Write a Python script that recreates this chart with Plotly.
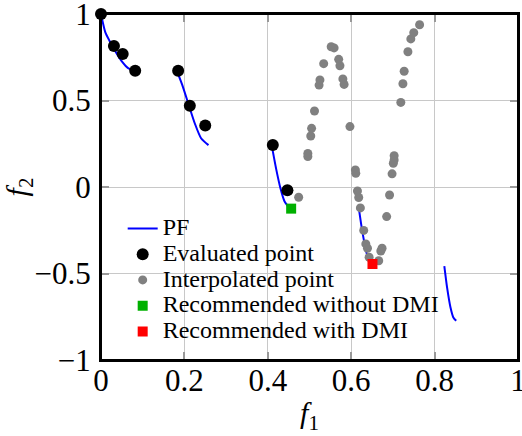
import plotly.graph_objects as go

# Pareto front segments, None separates segments
pf_f1 = [0.0, 0.01, 0.02, 0.035, 0.05, 0.065, 0.083, None,
         0.1822, 0.195, 0.21, 0.225, 0.24, 0.2578, None,
         0.4093, 0.42, 0.43, 0.44, 0.4539, None,
         0.6183, 0.625, 0.635, 0.645, 0.6525, None,
         0.8233, 0.83, 0.838, 0.845, 0.8518]
pf_f2 = [1.0, 0.897, 0.847, 0.782, 0.726, 0.687, 0.670, None,
         0.670, 0.589, 0.477, 0.367, 0.282, 0.242, None,
         0.242, 0.105, -0.004, -0.082, -0.128, None,
         -0.122, -0.232, -0.363, -0.440, -0.459, None,
         -0.457, -0.582, -0.695, -0.754, -0.773]

eval_f1 = [0.0, 0.031, 0.052, 0.082, 0.185, 0.213, 0.250, 0.412, 0.447]
eval_f2 = [1.0, 0.815, 0.769, 0.672, 0.672, 0.470, 0.355, 0.243, -0.019]

interp_f1 = [0.797, 0.764, 0.750, 0.743, 0.736, 0.727, 0.724, 0.719, 0.703, 0.701, 0.698,
             0.692, 0.685, 0.674, 0.671, 0.666, 0.643, 0.639, 0.635, 0.630, 0.622, 0.618,
             0.615, 0.611, 0.610, 0.597, 0.583, 0.580, 0.573, 0.570, 0.559, 0.552, 0.534,
             0.525, 0.523, 0.512, 0.505, 0.503, 0.496, 0.496, 0.474, 0.703]
interp_f2 = [1.004, 0.938, 0.892, 0.856, 0.782, 0.669, 0.597, 0.489, 0.181, 0.137, 0.076,
             -0.046, -0.171, -0.354, -0.370, -0.426, -0.406, -0.354, -0.329, -0.251, -0.121, -0.061,
             -0.023, 0.079, 0.098, 0.349, 0.593, 0.625, 0.701, 0.738, 0.804, 0.811, 0.713,
             0.619, 0.589, 0.439, 0.339, 0.295, 0.194, 0.176, -0.059, 0.156]

rec_no_dmi = ([0.456], [-0.125])
rec_dmi = ([0.651], [-0.445])

x_ticks = [0, 0.2, 0.4, 0.6, 0.8, 1]
x_labels = ["0", "0.2", "0.4", "0.6", "0.8", "1"]
y_ticks = [-1, -0.5, 0, 0.5, 1]
y_labels = ["\u22121", "\u22120.5", "0", "0.5", "1"]

FONT = "Liberation Serif, Times New Roman, serif"


def leg(name):
    return '<span style="font-size:24px">' + name + '</span>'


fig = go.Figure()
fig.add_trace(go.Scatter(x=pf_f1, y=pf_f2, mode="lines", name=leg("PF"),
                         line=dict(color="#0000ff", width=2, shape="spline", smoothing=0.6),
                         connectgaps=False))
fig.add_trace(go.Scatter(x=eval_f1, y=eval_f2, mode="markers", name=leg("Evaluated point"),
                         marker=dict(color="black", size=12), cliponaxis=False))
fig.add_trace(go.Scatter(x=interp_f1, y=interp_f2, mode="markers", name=leg("Interpolated point"),
                         marker=dict(color="#808080", size=9), cliponaxis=False))
fig.add_trace(go.Scatter(x=rec_no_dmi[0], y=rec_no_dmi[1], mode="markers",
                         name=leg("Recommended without DMI"),
                         marker=dict(color="#00b000", size=10, symbol="square"), cliponaxis=False))
fig.add_trace(go.Scatter(x=rec_dmi[0], y=rec_dmi[1], mode="markers",
                         name=leg("Recommended with DMI"),
                         marker=dict(color="#ff0000", size=10, symbol="square"), cliponaxis=False))

axis_common = dict(showline=True, linecolor="black", linewidth=2, mirror="ticks",
                   ticks="inside", ticklen=8, tickcolor="#999999", tickwidth=1.5,
                   showgrid=True, gridcolor="#c8c8c8", gridwidth=1, zeroline=False,
                   automargin=False, ticklabeloverflow="allow",
                   tickfont=dict(family=FONT, size=31, color="black"))

fig.update_xaxes(range=[0, 1], tickmode="array", tickvals=x_ticks, ticktext=x_labels,
                 ticklabelstandoff=-8,
                 title=dict(text="<i>f</i><sub>1</sub>", font=dict(family=FONT, size=30, color="black"),
                            standoff=5),
                 **axis_common)
fig.update_yaxes(range=[-1, 1], tickmode="array", tickvals=y_ticks, ticktext=y_labels,
                 ticklabelstandoff=2,
                 title=dict(text="<i>f</i><sub>2</sub>", font=dict(family=FONT, size=30, color="black"),
                            standoff=6),
                 **axis_common)

# frame around the plotting area
fig.add_shape(type="rect", xref="x domain", yref="y domain", x0=0, x1=1, y0=0, y1=1,
              line=dict(color="black", width=2), layer="above")

frame_axis = dict(showline=True, linecolor="black", linewidth=2, showgrid=False,
                  zeroline=False, showticklabels=False, ticks="inside", ticklen=8,
                  tickcolor="#999999", tickwidth=1.5, automargin=False, tickmode="array")

fig.update_layout(
    width=522, height=436,
    margin=dict(l=101, r=4, t=14, b=76),
    plot_bgcolor="white", paper_bgcolor="white",
    font=dict(family=FONT, color="black"),
    xaxis2=dict(overlaying="x", side="top", anchor="y", range=[0, 1],
                tickvals=x_ticks, **frame_axis),
    yaxis2=dict(overlaying="y", side="right", anchor="x", range=[-1, 1],
                tickvals=y_ticks, **frame_axis),
    legend=dict(x=0.052, y=0.432, xanchor="left", yanchor="top",
                bgcolor="rgba(0,0,0,0)", borderwidth=0,
                font=dict(family=FONT, size=17.5, color="black"),
                tracegroupgap=0),
    showlegend=True,
)

fig.write_html("out.html", config={"displayModeBar": False},
               post_script="document.body.style.margin='0px';")
